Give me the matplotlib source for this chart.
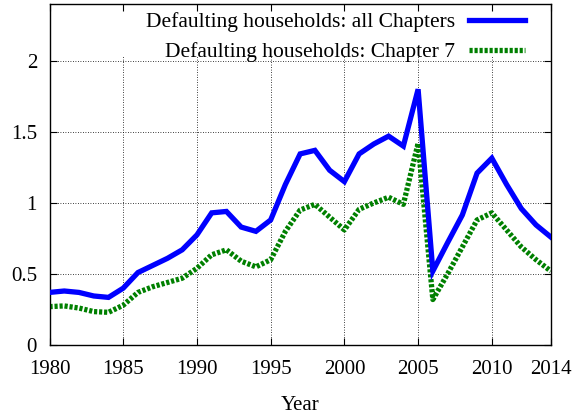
import matplotlib
matplotlib.use("Agg")
import matplotlib.pyplot as plt

# data
years = list(range(1980, 2015))
all_chapters = [0.37, 0.38, 0.37, 0.345, 0.335, 0.40, 0.51, 0.56, 0.61, 0.67,
                0.775, 0.93, 0.94, 0.83, 0.80, 0.88, 1.13, 1.345, 1.37, 1.23,
                1.15, 1.345, 1.415, 1.47, 1.40, 1.80, 0.52, 0.72, 0.915, 1.21,
                1.315, 1.13, 0.96, 0.845, 0.76]
chapter7 = [0.27, 0.275, 0.26, 0.235, 0.23, 0.28, 0.37, 0.41, 0.44, 0.47,
            0.54, 0.635, 0.67, 0.59, 0.55, 0.60, 0.80, 0.95, 0.99, 0.90,
            0.81, 0.955, 1.00, 1.04, 0.99, 1.42, 0.32, 0.50, 0.69, 0.88,
            0.93, 0.81, 0.69, 0.60, 0.52]
xticks = [1980, 1985, 1990, 1995, 2000, 2005, 2010, 2014]
yticks = [0, 0.5, 1, 1.5, 2]
ytick_labels = ["0", "0.5", "1", "1.5", "2"]

plt.rcParams["font.family"] = ["Liberation Serif", "DejaVu Serif"]
plt.rcParams["font.size"] = 15

fig = plt.figure(figsize=(5.75, 4.15), dpi=100)
ax = fig.add_axes([0.0861, 0.1687, 0.8718, 0.8216])

# grid (stops under the key, like gnuplot)
key_bottom = 0.85
for x in xticks[1:-1]:
    ax.axvline(x, ymax=key_bottom, color="black", lw=0.6, ls=(0, (1, 2)), zorder=1)
for y in yticks[1:]:
    ax.axhline(y, color="black", lw=0.6, ls=(0, (1, 2)), zorder=1)

ax.plot(years, all_chapters, color="#0000ff", lw=3.8, solid_joinstyle="miter",
        label="Defaulting households: all Chapters", zorder=3)
ax.plot(years, chapter7, color="#008000", lw=3.8, ls=(0, (0.6, 0.35)),
        label="Defaulting households: Chapter 7", zorder=2)

ax.set_xlim(1980, 2014)
ax.set_ylim(0, 2.4)
ax.set_xticks(xticks)
ax.set_yticks(yticks)
ax.set_yticklabels(ytick_labels)
ax.tick_params(direction="in", length=5, width=0.8, top=True, right=True)
ax.tick_params(axis="x", pad=11)
ax.tick_params(axis="y", pad=9)
for s in ax.spines.values():
    s.set_linewidth(1.0)

ax.set_xlabel("Year", labelpad=12)

ax.legend(loc="upper right", bbox_to_anchor=(0.9485, 0.976), frameon=False,
          markerfirst=False, handlelength=2.6, handletextpad=0.65,
          labelspacing=0.45, borderaxespad=0.0, borderpad=0.0, fontsize=15.5)

fig.savefig("out.png", dpi=100)
